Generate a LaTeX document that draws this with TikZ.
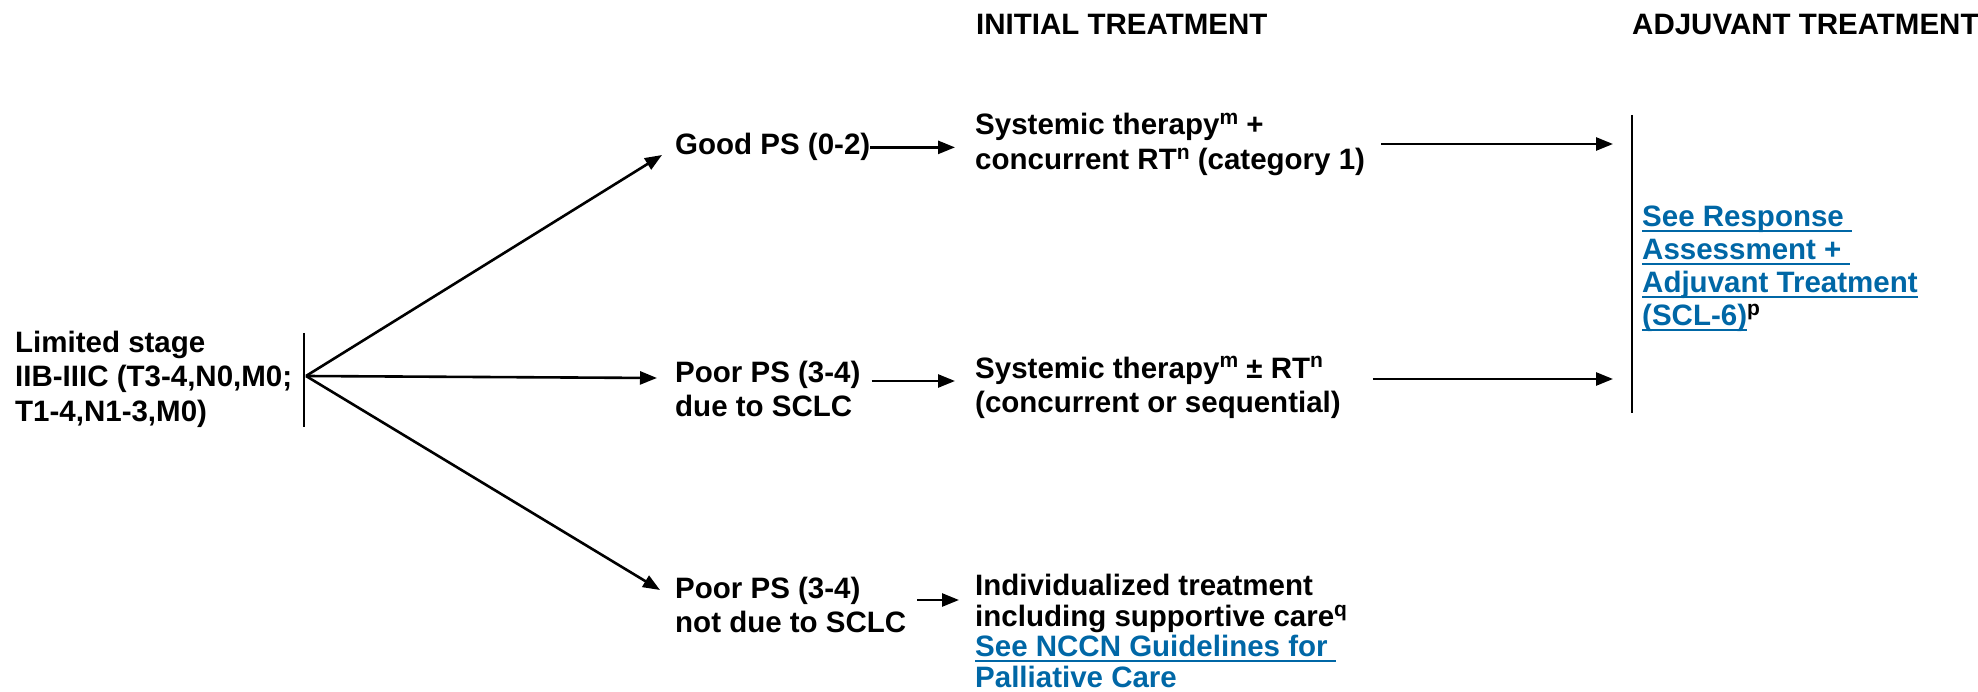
\documentclass[tikz,border=0pt]{standalone}
\usepackage{fontspec}
\setmainfont{Liberation Sans}
\usetikzlibrary{arrows.meta}
\definecolor{nccnblue}{RGB}{0,103,166}
\newcommand{\supr}[1]{\raisebox{10pt}{\fontsize{21}{21}\selectfont #1}}
\newcommand{\lnkline}[1]{\setbox0\hbox{#1}\rlap{\rule[-5pt]{\wd0}{2pt}}\box0}

\begin{document}
\begin{tikzpicture}[x=1pt,y=-1pt,
  every node/.style={inner sep=0pt,anchor=base west,align=left,
    font=\fontsize{29.5}{34}\selectfont\bfseries},
  arr/.style={line width=2.6pt,-{Triangle[length=17pt,width=13pt]}},
  bar/.style={line width=2.6pt}]
\useasboundingbox (0,0) rectangle (1978,692);

%headers
\node (hinit) at (976,35) {INITIAL TREATMENT};
\node (hadj) at (1632,35) {ADJUVANT TREATMENT};

%stage (multi-line nodes sit on their last baseline)
\node[font=\fontsize{29.5}{34.5}\selectfont\bfseries] (stage) at (15,421)
  {Limited stage\\IIB-IIIC (T3-4,N0,M0;\\T1-4,N1-3,M0)};
\coordinate (barLT) at (304,333);
\coordinate (barLB) at (304,427);
\coordinate (fan) at (306,376);
\draw[bar] (barLT) -- (barLB);

%performance status
\node (good) at (675,155) {Good PS (0-2)};
\node (poorA) at (675,417) {Poor PS (3-4)\\due to SCLC};
\node (poorB) at (675,632) {Poor PS (3-4)\\not due to SCLC};

%initial treatment
\node[font=\fontsize{29.5}{35}\selectfont\bfseries] (sysA) at (975,170)
  {Systemic therapy\supr{m} +\\concurrent RT\supr{n} (category 1)};
\node (sysB) at (975,412) {Systemic therapy\supr{m} ± RT\supr{n}\\(concurrent or sequential)};
\node[font=\fontsize{29.5}{30.5}\selectfont\bfseries] (indiv) at (975,687)
  {Individualized treatment\\including supportive care\supr{q}\\
  {\color{nccnblue}\lnkline{See NCCN Guidelines for\ }}\\{\color{nccnblue}Palliative Care}};

%adjuvant treatment
\coordinate (barRT) at (1632,115);
\coordinate (barRB) at (1632,413);
\draw[bar] (barRT) -- (barRB);
\node[text=nccnblue,font=\fontsize{29.5}{33}\selectfont\bfseries] (resp) at (1642,326)
  {\lnkline{See Response\ }\\\lnkline{Assessment +\ }\\\lnkline{Adjuvant Treatment}\\
   \lnkline{(SCL-6)}{\color{black}\supr{p}}};

%fan
\draw[arr] (fan) -- ([xshift=-13pt]good.base west);
\draw[arr] (fan) -- ([xshift=-18pt,yshift=39pt]poorA.base west);
\draw[arr] (fan) -- ([xshift=-15pt,yshift=42pt]poorB.base west);

%to initial treatment
\coordinate (rowP) at ([xshift=11pt,yshift=36pt]poorA.base east);
\coordinate (rowQ) at ([xshift=11pt,yshift=32pt]poorB.base east);
\draw[arr,shorten >=20pt] (good.east) -- (good.east -| sysA.west);
\draw[arr,shorten >=20pt] (rowP) -- (rowP -| sysB.west);
\draw[arr,shorten >=16pt] (rowQ) -- (rowQ -| indiv.west);

%to adjuvant treatment
\coordinate (rowA) at ([yshift=26pt]sysA.base east);
\coordinate (rowB) at ([yshift=33pt]sysB.base east);
\draw[arr,shorten <=16pt,shorten >=19pt] (rowA) -- (rowA -| barRT);
\draw[arr,shorten <=32pt,shorten >=19pt] (rowB) -- (rowB -| barRT);

\end{tikzpicture}
\end{document}
